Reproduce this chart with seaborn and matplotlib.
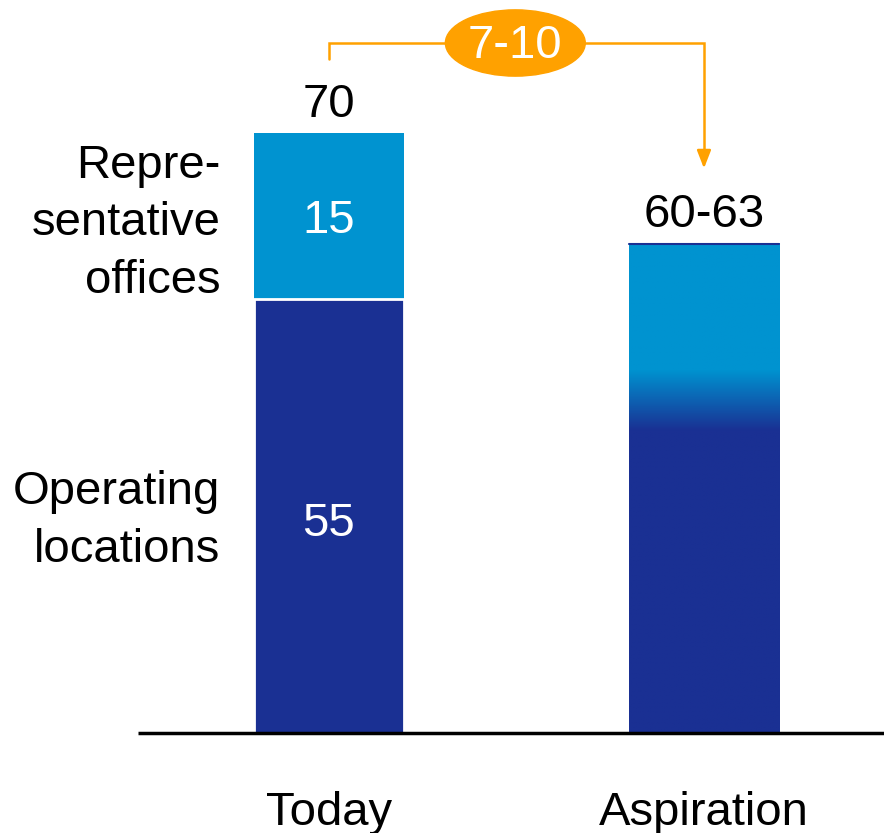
import numpy as np
import pandas as pd
import matplotlib
matplotlib.use("Agg")
import matplotlib.pyplot as plt
from matplotlib.patches import Ellipse
from matplotlib.colors import LinearSegmentedColormap
import seaborn as sns

# ---- data ----
categories = ["Today", "Aspiration"]
segment_names = ["Operating\nlocations", "Repre-\nsentative\noffices"]
# bar heights as drawn in the picture (visual scale)
operating_heights = [55, 0]
total_heights = [76, 62]
# value labels as printed
segment_labels = ["55", "15"]
total_labels = ["70", "60-63"]
delta_label = "7-10"
# aspiration gradient (light above, dark below), in bar units
grad_light_from = 46
grad_dark_to = 38.3

LIGHT = "#0093D0"
DARK = "#1A3093"
ORANGE = "#FFA100"

sns.set_theme(style="white")
plt.rcParams["font.family"] = ["Liberation Sans", "DejaVu Sans"]
plt.rcParams["text.color"] = "black"

fig = plt.figure(figsize=(8.84, 8.33), dpi=100)
ax = fig.add_axes([0, 0, 1, 1])

df = pd.DataFrame({"cat": categories, "total": total_heights, "op": operating_heights})
sns.barplot(data=df, x="cat", y="total", color=LIGHT, width=0.4, ax=ax,
            saturation=1, edgecolor="white", linewidth=0, zorder=2)
sns.barplot(data=df.iloc[:1], x="cat", y="op", color=DARK, width=0.4, ax=ax,
            saturation=1, edgecolor="white", linewidth=2, zorder=3)

ax.set_xlim(-0.877, 1.48)
ax.set_ylim(-12.67, 92.9)
ax.axis("off")

# gradient on Aspiration bar
asp_patch = ax.patches[1]
x0 = asp_patch.get_x(); w = asp_patch.get_width(); h = asp_patch.get_height()
ys = np.linspace(0, h, 400)
vals = np.clip((ys - grad_dark_to) / (grad_light_from - grad_dark_to), 0, 1)
cmap = LinearSegmentedColormap.from_list("g", [DARK, LIGHT])
ax.imshow(vals[:, None], extent=[x0, x0 + w, 0, h], origin="lower",
          cmap=cmap, vmin=0, vmax=1, aspect="auto", zorder=3,
          interpolation="bilinear")
ax.plot([x0, x0 + w], [h, h], color=DARK, lw=1.5, zorder=4)
ax.set_xlim(-0.877, 1.48)
ax.set_ylim(-12.67, 92.9)

# baseline
ax.plot([-0.508, 1.48], [0, 0], color="black", lw=2.5, zorder=5, solid_capstyle="butt")

FS = 34
# segment labels on Today bar
ax.text(0, operating_heights[0] / 2 - 1.0, segment_labels[0], color="white",
        fontsize=FS, ha="center", va="center", zorder=6)
ax.text(0, (operating_heights[0] + total_heights[0]) / 2 - 0.6, segment_labels[1],
        color="white", fontsize=FS, ha="center", va="center", zorder=6)
# totals
for i, lab in enumerate(total_labels):
    ax.text(i, total_heights[i] + 3.6, lab, fontsize=FS, ha="center",
            va="center", color="black")
# category labels
for i, c in enumerate(categories):
    ax.text(i, -10.1, c, fontsize=FS, ha="center", va="center", color="black")
# segment names on left
ax.text(-0.29, (operating_heights[0] + total_heights[0]) / 2 - 0.9, segment_names[1],
        fontsize=FS, ha="right", va="center", linespacing=1.4, color="black")
ax.text(-0.29, 26.9, segment_names[0], fontsize=FS, ha="right", va="center",
        linespacing=1.4, color="black")

# bracket with arrow
yb = 87.45
ax.plot([0, 0, 1, 1], [85.4, yb, yb, 73.5], color=ORANGE, lw=1.8, zorder=5,
        solid_joinstyle="miter")
ax.annotate("", xy=(1, 71.2), xytext=(1, 74),
            arrowprops=dict(arrowstyle="-|>,head_length=0.9,head_width=0.35",
                            color=ORANGE, lw=1.8), zorder=5)
ax.add_patch(Ellipse((0.497, yb), 0.373, 8.4, color=ORANGE, zorder=6))
ax.text(0.497, yb - 0.4, delta_label, color="white", fontsize=FS, ha="center",
        va="center", zorder=7)

fig.savefig("out.png", dpi=100)
